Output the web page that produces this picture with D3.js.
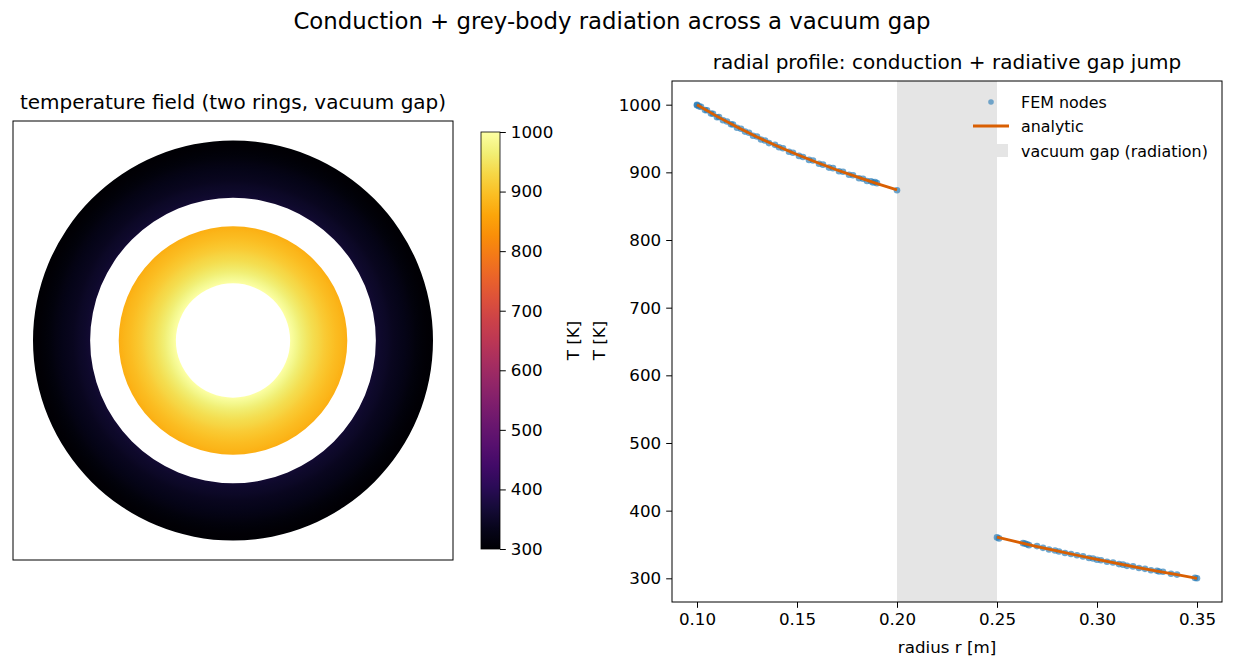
<!DOCTYPE html>
<html>
<head>
<meta charset="utf-8">
<script src="https://cdn.jsdelivr.net/npm/d3@7"></script>
<style>
  body { margin: 0; background: #fff; }
  svg { font-family: "DejaVu Sans", sans-serif; }
</style>
</head>
<body>
<svg id="chart" width="1235" height="670"></svg>
<script>
// analytic profile, inner ring (conduction)
const innerR = [0.10, 0.11, 0.12, 0.13, 0.14, 0.15, 0.16, 0.17, 0.18, 0.19, 0.20];
const innerT = [1000, 982.7, 966.9, 952.3, 938.8, 926.3, 914.6, 903.5, 893.2, 883.3, 874];
// analytic profile, outer ring
const outerR = [0.25, 0.26, 0.27, 0.28, 0.29, 0.30, 0.31, 0.32, 0.33, 0.34, 0.35];
const outerT = [361, 353.9, 347.0, 340.5, 334.1, 327.9, 322.0, 316.2, 310.7, 305.3, 300];

// FEM node samples
const innerNodeR = [0.100, 0.100, 0.101, 0.102, 0.104, 0.105, 0.107, 0.108, 0.110, 0.111,
  0.113, 0.115, 0.117, 0.118, 0.120, 0.122, 0.124, 0.126, 0.128, 0.130,
  0.132, 0.134, 0.136, 0.139, 0.141, 0.143, 0.146, 0.148, 0.151, 0.153,
  0.156, 0.158, 0.161, 0.163, 0.166, 0.168, 0.171, 0.173, 0.176, 0.178,
  0.181, 0.183, 0.185, 0.187, 0.188, 0.189, 0.190, 0.200];
const innerNodeT = [1000.0, 999.0, 997.5, 996.8, 992.0, 991.8, 987.0, 986.6, 981.5, 981.8,
  977.0, 975.2, 971.0, 970.8, 965.8, 964.5, 960.2, 958.5, 954.0, 953.0,
  948.6, 947.0, 943.2, 940.6, 937.0, 935.5, 930.4, 928.9, 924.3, 922.6,
  918.4, 917.4, 912.6, 911.4, 907.0, 906.2, 901.6, 900.9, 896.5, 895.6,
  891.2, 890.6, 887.2, 886.9, 885.0, 885.6, 884.0, 873.5];
const outerNodeR = [0.250, 0.251, 0.263, 0.264, 0.265, 0.266, 0.270, 0.273, 0.276, 0.279,
  0.281, 0.284, 0.287, 0.290, 0.293, 0.296, 0.298, 0.300, 0.302, 0.305,
  0.308, 0.311, 0.313, 0.315, 0.318, 0.321, 0.324, 0.327, 0.330, 0.331,
  0.333, 0.337, 0.340, 0.349, 0.350];
const outerNodeT = [360.5, 359.0, 352.0, 351.3, 350.2, 349.0, 347.6, 345.0, 342.6, 341.2,
  339.6, 337.4, 336.0, 334.0, 332.4, 330.0, 329.2, 327.5, 326.6, 324.5,
  323.4, 321.0, 320.2, 318.4, 317.6, 315.2, 314.0, 312.0, 311.2, 310.0,
  309.6, 306.8, 305.5, 300.6, 300.0];

const gap = [0.20, 0.25];
const xTicks = [0.10, 0.15, 0.20, 0.25, 0.30, 0.35];
const yTicks = [300, 400, 500, 600, 700, 800, 900, 1000];
const cbTicks = [300, 400, 500, 600, 700, 800, 900, 1000];

const svg = d3.select("#chart");
const color = d3.scaleSequential(d3.interpolateInferno).domain([300, 1000]);
const tickFont = "16.7px";

svg.append("text")
  .attr("x", 612).attr("y", 29)
  .attr("text-anchor", "middle")
  .style("font-size", "22.8px")
  .text("Conduction + grey-body radiation across a vacuum gap");

// ---- left panel: temperature field ----
const L = { left: 13, top: 121, width: 440, height: 439 };
const fx = d3.scaleLinear().domain([-0.385, 0.385]).range([L.left, L.left + L.width]);
const fy = d3.scaleLinear().domain([-0.385, 0.385]).range([L.top + L.height, L.top]);
const pxPerM = fx(1) - fx(0);
const cx = fx(0), cy = fy(0);

const defs = svg.append("defs");
const Rmax = outerR[outerR.length - 1];
const rg = defs.append("radialGradient")
  .attr("id", "field")
  .attr("gradientUnits", "userSpaceOnUse")
  .attr("cx", 0).attr("cy", 0).attr("r", Rmax * pxPerM);
innerR.concat(outerR).forEach((r, i) => {
  const t = i < innerR.length ? innerT[i] : outerT[i - innerR.length];
  rg.append("stop").attr("offset", r / Rmax).attr("stop-color", color(t));
});

const field = svg.append("g").attr("transform", `translate(${cx},${cy})`);
const arc = d3.arc().startAngle(0).endAngle(2 * Math.PI);
[[innerR[0], innerR[innerR.length - 1]], [outerR[0], Rmax]].forEach(([a, b]) => {
  field.append("path")
    .attr("d", arc({ innerRadius: a * pxPerM, outerRadius: b * pxPerM }))
    .attr("fill", "url(#field)");
});

svg.append("rect")
  .attr("x", L.left).attr("y", L.top)
  .attr("width", L.width).attr("height", L.height)
  .attr("fill", "none").attr("stroke", "#000").attr("stroke-width", 1);

svg.append("text")
  .attr("x", L.left + L.width / 2).attr("y", L.top - 12)
  .attr("text-anchor", "middle")
  .style("font-size", "20px")
  .text("temperature field (two rings, vacuum gap)");

// colorbar
const CB = { left: 481, top: 132, width: 19, height: 417 };
const cbScale = d3.scaleLinear().domain([300, 1000]).range([CB.top + CB.height, CB.top]);
const lg = defs.append("linearGradient")
  .attr("id", "cbar").attr("x1", 0).attr("y1", 1).attr("x2", 0).attr("y2", 0);
d3.range(0, 1.0001, 0.05).forEach(f => {
  lg.append("stop").attr("offset", f).attr("stop-color", d3.interpolateInferno(f));
});
svg.append("rect")
  .attr("x", CB.left).attr("y", CB.top)
  .attr("width", CB.width).attr("height", CB.height)
  .attr("fill", "url(#cbar)").attr("stroke", "#000").attr("stroke-width", 0.8);
const cbAxis = svg.append("g")
  .attr("transform", `translate(${CB.left + CB.width},0)`)
  .call(d3.axisRight(cbScale).tickValues(cbTicks).tickFormat(d3.format("d")).tickSize(5.8).tickPadding(5));
cbAxis.select(".domain").remove();
cbAxis.attr("font-family", "DejaVu Sans");
cbAxis.selectAll("text").style("font-size", tickFont).attr("fill", "#000");
[579, 605].forEach(x => {
  svg.append("text")
    .attr("transform", `translate(${x},${CB.top + CB.height / 2}) rotate(-90)`)
    .attr("text-anchor", "middle")
    .style("font-size", tickFont)
    .text("T [K]");
});

// ---- right panel: radial profile ----
const R = { left: 672, top: 81, width: 550, height: 521 };
const x = d3.scaleLinear().domain([0.0875, 0.3625]).range([R.left, R.left + R.width]);
const y = d3.scaleLinear().domain([265, 1035]).range([R.top + R.height, R.top]);

svg.append("rect")
  .attr("x", x(gap[0])).attr("y", R.top)
  .attr("width", x(gap[1]) - x(gap[0])).attr("height", R.height)
  .attr("fill", "#e5e5e5");

const nodes = innerNodeR.map((r, i) => ({ r, t: innerNodeT[i] }))
  .concat(outerNodeR.map((r, i) => ({ r, t: outerNodeT[i] })));
svg.append("g").selectAll("circle")
  .data(nodes)
  .enter()
  .append("circle")
  .attr("cx", d => x(d.r))
  .attr("cy", d => y(d.t))
  .attr("r", 3.3)
  .attr("fill", "#1f77b4")
  .attr("fill-opacity", 0.65);

const line = d3.line().x(d => x(d[0])).y(d => y(d[1]));
[[innerR, innerT], [outerR, outerT]].forEach(([rs, ts]) => {
  svg.append("path")
    .datum(rs.map((r, i) => [r, ts[i]]))
    .attr("fill", "none")
    .attr("stroke", "#d95f02")
    .attr("stroke-width", 2.8)
    .attr("d", line);
});

const xAxis = svg.append("g")
  .attr("transform", `translate(0,${R.top + R.height})`)
  .call(d3.axisBottom(x).tickValues(xTicks).tickFormat(d3.format(".2f")).tickSize(5.8).tickPadding(5));
const yAxis = svg.append("g")
  .attr("transform", `translate(${R.left},0)`)
  .call(d3.axisLeft(y).tickValues(yTicks).tickFormat(d3.format("d")).tickSize(5.8).tickPadding(5));
[xAxis, yAxis].forEach(a => {
  a.select(".domain").remove();
  a.attr("font-family", "DejaVu Sans");
  a.selectAll("text").style("font-size", tickFont).attr("fill", "#000");
  a.selectAll("line").attr("stroke", "#000");
});

svg.append("rect")
  .attr("x", R.left).attr("y", R.top)
  .attr("width", R.width).attr("height", R.height)
  .attr("fill", "none").attr("stroke", "#000").attr("stroke-width", 1);

svg.append("text")
  .attr("x", R.left + R.width / 2).attr("y", R.top - 12)
  .attr("text-anchor", "middle")
  .style("font-size", "20px")
  .text("radial profile: conduction + radiative gap jump");

svg.append("text")
  .attr("x", R.left + R.width / 2).attr("y", 653)
  .attr("text-anchor", "middle")
  .style("font-size", tickFont)
  .text("radius r [m]");

// legend
const leg = svg.append("g").attr("transform", "translate(973,102)");
leg.append("circle").attr("cx", 18).attr("cy", 0).attr("r", 2.8)
  .attr("fill", "#1f77b4").attr("fill-opacity", 0.6);
leg.append("line").attr("x1", 0).attr("x2", 36).attr("y1", 24).attr("y2", 24)
  .attr("stroke", "#d95f02").attr("stroke-width", 2.8);
leg.append("rect").attr("x", 7).attr("y", 42).attr("width", 28).attr("height", 13)
  .attr("fill", "#e5e5e5");
["FEM nodes", "analytic", "vacuum gap (radiation)"].forEach((t, i) => {
  leg.append("text")
    .attr("x", 48).attr("y", i * 24.3 + 6)
    .style("font-size", "15.9px")
    .text(t);
});
</script>
</body>
</html>
